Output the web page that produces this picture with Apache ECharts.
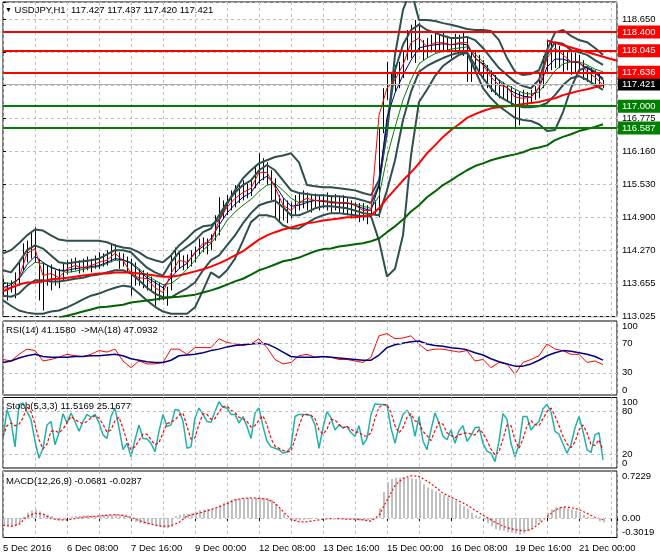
<!DOCTYPE html>
<html><head><meta charset="utf-8">
<script src="https://cdn.jsdelivr.net/npm/echarts@6/dist/echarts.min.js"></script>
<style>html,body{margin:0;padding:0;background:#fff}#c{width:660px;height:560px}</style>
</head><body><div id="c"></div>
<script>
// ---------------- data ----------------
const xTickLabels = ['5 Dec 2016','6 Dec 08:00','7 Dec 16:00','9 Dec 00:00','12 Dec 08:00','13 Dec 16:00','15 Dec 00:00','16 Dec 08:00','19 Dec 16:00','21 Dec 00:00'];
const yTickLabels = ['113.025','113.655','114.270','114.900','115.530','116.160','116.775','117.405','118.020','118.650'];
const rsiTicks = [0, 30, 70, 100];
const stochTicks = [0, 20, 80, 100];
const macdTicks = [-0.3019, 0, 0.7229];
const macdTickLabels = ['-0.3019', '0.00', '0.7229'];

// price bars, one sample every 2 hourly bars
const priceHigh = [113.74,113.67,113.71,113.86,114.05,114.41,114.46,114.62,114.71,114.12,
114.05,113.99,114.01,113.90,113.93,114.05,114.09,114.12,114.14,114.09,
114.12,114.16,114.12,114.18,114.24,114.22,114.28,114.41,114.39,114.24,
114.22,114.16,114.12,114.05,113.93,113.90,113.86,113.78,113.71,113.67,
113.61,113.59,114.18,114.33,114.24,114.18,114.20,114.28,114.35,114.50,
114.52,114.50,114.58,114.94,115.28,115.22,115.32,115.41,115.51,115.56,
115.60,115.54,115.64,115.89,116.11,116.02,115.94,115.79,115.64,115.32,
115.26,115.22,115.18,115.32,115.37,115.41,115.37,115.34,115.35,115.32,
115.34,115.37,115.32,115.34,115.30,115.32,115.26,115.22,115.18,115.17,
115.17,115.13,115.15,115.22,116.60,117.34,117.84,117.65,117.78,117.84,
118.06,118.44,118.54,118.63,118.57,118.25,118.29,118.35,118.39,118.35,
118.39,118.33,118.29,118.37,118.35,118.40,118.29,118.06,118.02,117.97,
117.87,117.78,117.68,117.59,117.50,117.46,117.42,117.38,117.31,117.27,
117.31,117.27,117.31,117.38,117.65,117.95,118.25,118.21,118.18,118.14,
118.06,118.02,118.02,118.01,117.97,117.87,117.76,117.72,117.68,117.63,
117.50];
const priceLow = [113.40,113.33,113.48,113.37,113.61,113.90,114.05,114.12,114.05,113.33,
113.14,113.61,113.52,113.61,113.56,113.71,113.82,113.86,113.90,113.84,
113.86,113.90,113.86,113.93,113.93,113.97,113.99,114.05,114.09,113.93,
113.97,113.86,113.42,113.61,113.61,113.56,113.52,113.52,113.23,113.33,
113.33,113.23,113.52,113.86,113.93,113.90,113.93,113.97,114.05,114.18,
114.24,114.20,114.28,114.46,114.56,114.88,114.94,115.03,115.09,115.17,
115.22,115.26,115.30,115.45,115.54,115.60,115.51,115.22,114.88,114.81,
114.84,114.79,114.88,114.94,115.03,115.07,115.03,114.99,115.07,115.03,
115.07,115.03,114.99,115.03,114.99,114.96,114.94,114.88,114.88,114.81,
114.84,114.77,114.88,114.94,114.90,116.49,117.12,117.21,117.27,117.34,
117.53,117.87,117.91,117.82,118.06,117.87,117.91,118.02,118.01,118.06,
118.02,118.06,117.91,118.02,118.06,117.95,117.46,117.46,117.68,117.59,
117.50,117.34,117.27,117.21,117.15,117.12,117.08,117.00,116.59,116.64,
117.02,117.00,117.04,117.12,117.15,117.34,117.65,117.68,117.72,117.72,
117.65,117.68,117.59,117.61,117.65,117.50,117.46,117.42,117.38,117.34,
117.34];

// indicator lines, one sample every 4 hourly bars
const fastMA = [113.57,113.56,113.76,114.22,114.31,113.80,113.84,113.76,113.93,113.99,
113.95,113.99,114.05,114.09,114.22,114.09,113.84,113.76,113.74,113.57,
113.48,113.84,114.09,114.05,114.22,114.41,114.43,114.84,115.09,115.26,
115.37,115.45,115.75,115.75,115.47,115.13,115.03,115.18,115.26,115.22,
115.22,115.17,115.18,115.18,115.13,115.03,115.03,116.83,117.34,117.50,
117.78,118.20,118.29,118.12,118.20,118.20,118.16,118.20,118.20,117.91,
117.78,117.55,117.40,117.36,117.17,117.15,117.17,117.36,117.91,118.10,
117.97,117.84,117.84,117.65,117.55,117.40];
const blueMA = [113.57,113.63,113.74,114.01,114.16,114.05,113.95,113.90,113.90,113.93,
113.95,113.97,113.99,114.05,114.12,114.10,114.03,113.90,113.76,113.67,
113.57,113.76,113.93,114.03,114.24,114.35,114.50,114.75,114.98,115.15,
115.28,115.37,115.58,115.68,115.51,115.28,115.11,115.13,115.18,115.22,
115.20,115.18,115.17,115.17,115.13,115.07,115.03,115.51,116.79,117.25,
117.59,117.87,118.10,118.14,118.16,118.18,118.16,118.18,118.16,117.91,
117.80,117.63,117.48,117.34,117.25,117.19,117.17,117.34,117.74,117.89,
117.89,117.84,117.82,117.72,117.63,117.53];
const greenMA = [113.67,113.65,113.74,113.93,114.05,114.03,113.97,113.90,113.86,113.88,
113.92,113.95,113.97,114.03,114.09,114.09,114.05,113.93,113.80,113.71,
113.63,113.65,113.76,113.92,114.09,114.28,114.41,114.60,114.84,115.00,
115.13,115.24,115.39,115.51,115.54,115.41,115.26,115.18,115.20,115.22,
115.22,115.20,115.18,115.17,115.15,115.11,115.07,115.30,116.04,116.60,
117.12,117.50,117.80,117.91,117.99,118.04,118.08,118.10,118.12,117.99,
117.84,117.65,117.50,117.40,117.32,117.25,117.23,117.27,117.46,117.67,
117.80,117.84,117.84,117.78,117.70,117.65];
const slowRedMA = [113.50,113.57,113.63,113.67,113.67,113.69,113.73,113.74,113.76,113.78,
113.80,113.82,113.84,113.84,113.86,113.86,113.86,113.84,113.82,113.80,
113.78,113.78,113.80,113.84,113.88,113.92,113.97,114.03,114.10,114.18,
114.26,114.37,114.48,114.56,114.62,114.67,114.71,114.75,114.79,114.81,
114.84,114.86,114.88,114.90,114.90,114.92,114.94,115.07,115.26,115.43,
115.60,115.75,115.92,116.11,116.26,116.42,116.55,116.66,116.78,116.85,
116.91,116.96,116.98,117.00,117.02,117.04,117.06,117.08,117.12,117.15,
117.21,117.25,117.29,117.32,117.36,117.40];
const slowGreenMA = [null,null,null,null,null,null,null,113.01,113.04,113.08,
113.12,113.16,113.20,113.21,113.23,113.25,113.29,113.31,113.33,113.35,
113.37,113.39,113.40,113.42,113.44,113.48,113.52,113.57,113.63,113.69,
113.74,113.82,113.90,113.95,114.01,114.07,114.10,114.14,114.20,114.26,
114.30,114.31,114.35,114.37,114.39,114.41,114.45,114.50,114.62,114.73,
114.86,115.01,115.13,115.28,115.39,115.51,115.60,115.70,115.79,115.87,
115.92,115.98,116.02,116.06,116.09,116.13,116.19,116.22,116.26,116.36,
116.42,116.47,116.53,116.57,116.61,116.66];
const bandUpper = [114.22,114.28,114.41,114.56,114.67,114.65,114.56,114.48,114.46,114.46,
114.46,114.46,114.46,114.43,114.37,114.33,114.31,114.24,114.14,114.09,
114.05,114.18,114.37,114.50,114.65,114.73,114.75,114.86,115.15,115.41,
115.64,115.79,115.92,115.98,116.04,116.07,116.11,115.94,115.51,115.49,
115.47,115.47,115.45,115.43,115.41,115.36,115.32,115.60,116.49,117.97,
118.82,119.20,118.63,118.63,118.61,118.57,118.54,118.50,118.46,118.44,
118.44,118.42,118.25,117.91,117.65,117.59,117.61,117.68,118.06,118.39,
118.44,118.33,118.25,118.21,118.10,117.97];
const bandLower = [113.33,113.23,113.14,113.10,113.08,113.08,113.12,113.14,113.20,113.27,
113.35,113.42,113.46,113.52,113.57,113.61,113.59,113.46,113.33,113.21,
113.12,113.08,113.08,113.08,113.20,113.52,113.86,113.76,113.90,114.12,
114.46,114.81,114.94,114.94,114.90,114.75,114.69,114.69,114.79,114.88,
114.94,114.98,114.98,114.96,114.94,114.92,114.92,114.46,113.78,113.93,
114.56,116.07,117.08,117.31,117.57,117.76,117.87,117.97,118.01,117.68,
117.34,117.15,117.00,116.89,116.78,116.74,116.72,116.66,116.53,116.55,
116.89,117.34,117.68,117.74,117.65,117.50];
const innerUpper = [113.90,113.86,114.05,114.28,114.37,114.31,114.18,114.05,114.03,114.05,
114.07,114.09,114.12,114.20,114.28,114.28,114.24,114.09,113.95,113.86,
113.80,114.05,114.24,114.35,114.46,114.62,114.69,114.94,115.18,115.37,
115.51,115.60,115.79,115.89,115.79,115.60,115.41,115.36,115.34,115.32,
115.32,115.30,115.30,115.28,115.26,115.22,115.17,115.51,116.64,117.68,
118.16,118.44,118.54,118.44,118.39,118.33,118.29,118.29,118.31,118.25,
118.10,117.91,117.72,117.59,117.46,117.38,117.34,117.50,117.97,118.21,
118.18,118.06,118.02,117.97,117.87,117.78];
const innerLower = [113.42,113.40,113.46,113.61,113.71,113.71,113.69,113.69,113.71,113.74,
113.76,113.80,113.82,113.86,113.90,113.90,113.84,113.71,113.57,113.46,
113.39,113.39,113.48,113.56,113.67,113.90,114.09,114.18,114.37,114.56,
114.79,114.98,115.13,115.18,115.22,115.09,114.94,114.94,115.00,115.07,
115.11,115.11,115.09,115.07,115.03,114.98,114.96,114.94,115.41,115.98,
116.74,117.27,117.65,117.76,117.84,117.91,117.97,118.01,118.02,117.78,
117.53,117.34,117.19,117.10,117.02,116.98,116.98,117.00,117.06,117.21,
117.40,117.53,117.57,117.50,117.40,117.31];
const trendLine = [[272, 118.24], [307, 117.86]];
const redLevels = [118.400, 118.045, 117.636];
const greenLevels = [117.000, 116.587];
const lastPrice = 117.421;

// RSI (every 4 bars)
const rsi = [48,46,55,62,60,46,48,51,55,53,
52,55,60,58,62,46,37,46,42,42,
44,62,62,55,64,64,64,76,71,69,
67,69,76,64,48,42,44,53,55,51,
52,51,48,48,46,44,51,80,83,76,
77,80,69,60,62,62,60,58,60,46,
48,37,44,42,28,44,48,53,69,62,
60,55,55,44,46,41.16];
const rsiMA = [44,46,50,53,55,52,51,51,51,52,
52,53,53,54,55,53,49,47,45,44,
44,47,53,54,55,57,60,62,65,67,
68,69,70,69,64,58,52,51,51,51,
52,51,50,49,48,47,47,54,64,68,
70,72,73,69,67,66,64,63,61,57,
54,49,45,42,39,39,42,47,53,57,
60,59,57,55,52,47.09];
const rsiLevels = [30, 70];

// Stochastic (every 2 bars)
const stochK = [42,83,66,30,90,92,80,69,38,14,
28,61,66,33,50,77,64,78,66,52,
66,76,72,76,64,47,42,73,85,57,
26,35,16,40,61,42,41,35,23,52,
76,59,61,83,82,66,28,30,71,85,
76,66,65,80,94,86,85,76,76,64,
73,59,42,78,85,59,38,30,28,26,
21,23,30,73,76,76,76,74,61,28,
57,80,71,54,61,57,59,50,45,60,
33,42,76,91,90,90,89,57,35,59,
76,82,73,45,73,38,26,54,78,64,
45,40,54,35,53,60,38,46,57,58,
35,24,21,9,38,77,69,35,16,33,
73,73,54,61,66,84,90,80,52,48,
34,21,33,57,73,52,26,22,47,50,
11.52];
const stochD = [45,60,64,60,62,71,87,80,62,40,
27,34,52,53,50,55,64,73,69,65,
63,66,71,74,71,62,51,54,67,72,
56,38,26,30,39,48,48,40,33,36,
50,63,65,68,75,78,59,41,43,62,
77,76,69,70,80,87,88,82,79,72,
70,66,58,60,68,74,61,42,31,28,
25,23,24,41,60,75,76,75,70,54,
48,55,69,68,62,57,59,55,51,51,
46,45,50,70,86,90,90,79,60,50,
57,72,77,67,64,52,46,39,53,65,
62,50,46,43,47,49,50,48,47,54,
50,39,27,18,23,41,61,60,40,28,
41,60,67,62,60,70,80,85,74,60,
45,34,29,37,54,61,50,33,32,40,
25.17];
const stochLevels = [20, 80];

// MACD (histogram every 2 bars, signal every 4 bars)
const macdHist = [-0.12,-0.13,-0.13,-0.12,-0.08,0.02,0.08,0.11,0.13,0.10,
0.06,0.05,0.03,-0.02,-0.03,-0.03,0.00,0.02,0.03,0.03,
0.04,0.04,0.04,0.03,0.04,0.05,0.05,0.05,0.06,0.05,
0.04,0.03,-0.02,-0.06,-0.08,-0.09,-0.10,-0.11,-0.13,-0.14,
-0.15,-0.16,-0.14,0.03,0.05,0.06,0.06,0.07,0.10,0.12,
0.13,0.14,0.14,0.16,0.20,0.23,0.25,0.28,0.29,0.30,
0.30,0.31,0.30,0.31,0.32,0.31,0.30,0.28,0.22,0.14,
0.06,0.00,-0.04,-0.05,-0.04,-0.03,-0.02,-0.01,-0.01,0.00,
0.00,-0.01,-0.01,-0.01,-0.01,-0.02,-0.02,-0.02,-0.03,-0.04,
-0.04,-0.04,-0.03,0.00,0.15,0.40,0.55,0.60,0.62,0.62,
0.62,0.62,0.61,0.60,0.58,0.52,0.47,0.44,0.41,0.38,
0.35,0.32,0.29,0.26,0.22,0.18,0.14,0.08,0.04,0.02,
-0.02,-0.08,-0.13,-0.17,-0.19,-0.20,-0.22,-0.23,-0.24,-0.26,
-0.24,-0.20,-0.15,-0.10,-0.05,-0.01,0.08,0.13,0.16,0.17,
0.17,0.15,0.13,0.11,0.09,0.05,0.02,0.00,-0.01,-0.05,
-0.068];
const macdSignal = [-0.11,-0.13,-0.10,0.02,0.07,0.06,-0.01,-0.03,-0.03,-0.01,
0.01,0.02,0.03,0.04,0.05,0.04,0.01,-0.04,-0.08,-0.11,
-0.13,-0.12,-0.07,0.03,0.06,0.09,0.13,0.17,0.22,0.28,
0.30,0.31,0.30,0.29,0.23,0.10,-0.02,-0.06,-0.06,-0.04,
-0.02,-0.01,-0.01,-0.02,-0.02,-0.03,-0.05,0.04,0.27,0.50,
0.61,0.65,0.64,0.57,0.48,0.38,0.32,0.26,0.20,0.12,
0.04,-0.03,-0.10,-0.15,-0.18,-0.20,-0.18,-0.09,0.02,0.12,
0.17,0.16,0.13,0.07,0.01,-0.029];
const macdLevels = [0];

// ---------------- chart ----------------
const FONT = 'Liberation Sans, Arial, sans-serif';
const FS = 9.5;
const Y_MIN = 113.025, Y_STEP = 0.625, Y_MAX = 118.969;
const X_MAX = 307;
const txt = {fontFamily: FONT, fontSize: FS, color: '#000'};
const dash = {color: '#c0c0c0', type: [3, 3], width: 1};
const at = (arr, step) => arr.map((v, k) => [k * step, v]);

const grids = [
  {left: 3, right: 43, top: 2, height: 314.6},
  {left: 3, right: 43, top: 321, height: 74},
  {left: 3, right: 43, top: 397.5, height: 70.5},
  {left: 3, right: 43, top: 471, height: 66.5}
].map(g => Object.assign(g, {show: true, borderColor: '#000', borderWidth: 1, containLabel: false}));

function xAxisFor(gi, labels) {
  return {
    type: 'value', gridIndex: gi, min: 0, max: X_MAX, interval: 16,
    axisLine: {show: false},
    axisTick: labels ? {show: true, length: 3, lineStyle: {color: '#000'}} : {show: false},
    axisLabel: labels ? Object.assign({show: true, align: 'left', margin: 6,
      formatter: v => (v % 32 === 0 && xTickLabels[v / 32]) || ''}, txt) : {show: false},
    splitLine: {show: true, lineStyle: dash}
  };
}
function listAxis(gi, min, max, interval, ticks, labels) {
  return {
    type: 'value', gridIndex: gi, position: 'right', min: min, max: max, interval: interval,
    axisLine: {show: false}, axisTick: {show: false}, splitLine: {show: false},
    axisLabel: Object.assign({margin: 5, verticalAlignMinLabel: 'bottom', verticalAlignMaxLabel: 'top',
      formatter: v => {
        for (let i = 0; i < ticks.length; i++) if (Math.abs(v - ticks[i]) < 1e-6) return labels ? labels[i] : String(ticks[i]);
        return '';
      }}, txt)
  };
}

function line(data, gi, color, width, type, z) {
  return {type: 'line', xAxisIndex: gi, yAxisIndex: gi, data: data, showSymbol: false, symbol: 'none',
    lineStyle: {color: color, width: width, type: type || 'solid'}, silent: true, z: z || 2,
    animation: false};
}
function levelLines(gi, values) {
  return {type: 'line', xAxisIndex: gi, yAxisIndex: gi, data: [], silent: true,
    markLine: {symbol: ['none', 'none'], silent: true, animation: false, label: {show: false},
      lineStyle: dash, data: values.map(v => ({yAxis: v}))}};
}

const GRAY = '#2f4f4f';
const lvlItem = (v, color, width, bg) => ({
  yAxis: v, lineStyle: {color: color, width: width, type: 'solid'},
  label: {show: true, position: 'end', distance: 1, formatter: () => v.toFixed(3),
    color: '#fff', backgroundColor: bg, padding: [2, 8, 1, 4], fontFamily: FONT, fontSize: FS}
});

const priceBars = priceHigh.map((h, k) => [k * 2, priceLow[k], h]);
const histBars = macdHist.map((v, k) => [k * 2, v]);

const option = {
  backgroundColor: '#fff',
  animation: false,
  title: [
    {text: '{t|▼} USDJPY,H1  117.427 117.437 117.420 117.421', left: 5, top: 5, padding: 0,
      textStyle: Object.assign({fontWeight: 'normal', rich: {t: {fontSize: 7, fontFamily: FONT, color: '#000'}}}, txt)},
    {text: 'RSI(14) 41.1580  ->MA(18) 47.0932', left: 6, top: 325, padding: 0, textStyle: Object.assign({fontWeight: 'normal'}, txt)},
    {text: 'Stoch(5,3,3) 11.5169 25.1677', left: 6, top: 401, padding: 0, textStyle: Object.assign({fontWeight: 'normal'}, txt)},
    {text: 'MACD(12,26,9) -0.0681 -0.0287', left: 6, top: 476, padding: 0, textStyle: Object.assign({fontWeight: 'normal'}, txt)}
  ],
  grid: grids,
  xAxis: [xAxisFor(0, false), xAxisFor(1, false), xAxisFor(2, false), xAxisFor(3, true)],
  yAxis: [
    {type: 'value', gridIndex: 0, position: 'right', min: Y_MIN, max: Y_MAX, interval: Y_STEP,
      axisLine: {show: false}, axisTick: {show: true, length: 3, lineStyle: {color: '#000'}},
      splitLine: {show: true, lineStyle: dash},
      axisLabel: Object.assign({margin: 5, formatter: v => {
        const i = Math.round((v - Y_MIN) / Y_STEP);
        return (Math.abs(v - (Y_MIN + i * Y_STEP)) < 1e-6 && yTickLabels[i]) || '';
      }}, txt)},
    listAxis(1, 0, 100, 10, rsiTicks),
    listAxis(2, 0, 100, 10, stochTicks),
    listAxis(3, -0.3019, 0.7229, 0.3019, macdTicks, macdTickLabels)
  ],
  series: [
    // price bars
    {type: 'custom', xAxisIndex: 0, yAxisIndex: 0, data: priceBars, encode: {x: 0, y: [1, 2]}, z: 2, silent: true,
      renderItem: (params, api) => {
        const a = api.coord([api.value(0), api.value(1)]);
        const b = api.coord([api.value(0), api.value(2)]);
        const x = Math.round(a[0]) + 0.5;
        return {type: 'line', shape: {x1: x, y1: a[1], x2: x, y2: b[1]}, style: {stroke: '#000', lineWidth: 1}};
      }},
    line(at(bandUpper, 4), 0, GRAY, 2),
    line(at(bandLower, 4), 0, GRAY, 2),
    line(at(innerUpper, 4), 0, GRAY, 2),
    line(at(innerLower, 4), 0, GRAY, 2),
    line(at(slowRedMA, 4), 0, '#ff0000', 2),
    line(at(slowGreenMA, 4), 0, '#006400', 2),
    line(at(greenMA, 4), 0, '#008000', 1),
    line(at(blueMA, 4), 0, '#000080', 1),
    line(at(fastMA, 4), 0, '#ff0000', 1),
    line(trendLine, 0, '#ff0000', 2, 'solid', 3),
    // horizontal levels with price boxes
    {type: 'line', xAxisIndex: 0, yAxisIndex: 0, data: [], silent: true, z: 5, clip: false,
      markLine: {symbol: ['none', 'none'], silent: true, animation: false,
        data: [lvlItem(lastPrice, '#b0b0b0', 1, '#000')]
          .concat(redLevels.map(v => lvlItem(v, '#ff0000', 2, '#ff0000')))
          .concat(greenLevels.map(v => lvlItem(v, '#008000', 2, '#008000')))
      }},
    // RSI
    levelLines(1, rsiLevels),
    line(at(rsi, 4), 1, '#ff0000', 1),
    line(at(rsiMA, 4), 1, '#000080', 1.5),
    // Stochastic
    levelLines(2, stochLevels),
    line(at(stochK, 2), 2, '#20b2aa', 1.5),
    line(at(stochD, 2), 2, '#ff0000', 1.2, [3, 2]),
    // MACD
    levelLines(3, macdLevels),
    {type: 'custom', xAxisIndex: 3, yAxisIndex: 3, data: histBars, encode: {x: 0, y: 1}, silent: true,
      renderItem: (params, api) => {
        const a = api.coord([api.value(0), 0]);
        const b = api.coord([api.value(0), api.value(1)]);
        const x = Math.round(a[0]) + 1;
        return {type: 'line', shape: {x1: x, y1: a[1], x2: x, y2: b[1]}, style: {stroke: '#c0c0c0', lineWidth: 2}};
      }},
    line(at(macdSignal, 4), 3, '#ff0000', 1.2, [2, 2])
  ]
};
const chart = echarts.init(document.getElementById('c'), null, {renderer: 'canvas'});
chart.setOption(option);
</script></body></html>
